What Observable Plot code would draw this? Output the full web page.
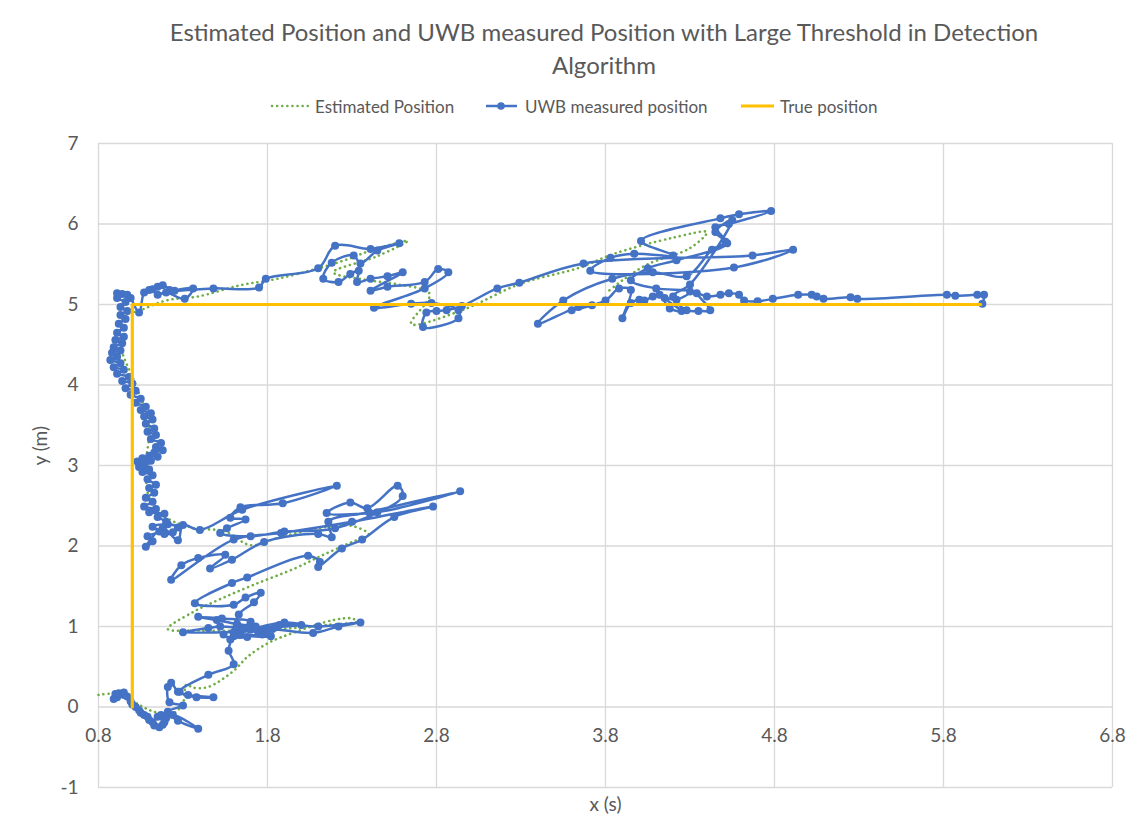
<!DOCTYPE html>
<html>
<head>
<meta charset="utf-8">
<script src="https://cdn.jsdelivr.net/npm/d3@7"></script>
<script src="https://cdn.jsdelivr.net/npm/@observablehq/plot@0.6"></script>
<style>
  html, body { margin: 0; padding: 0; background: #fff; }
  #wrap { position: relative; width: 1138px; height: 831px; font-family: Lato, "Open Sans", sans-serif; color: #595959; }
  #title { position: absolute; top: 15px; left: 0; width: 1208px; text-align: center; font-size: 24px; line-height: 33px; }
  #legend { position: absolute; top: 95px; left: 0; width: 1138px; height: 22px; font-size: 17px; }
  .li { position: absolute; top: 0; display: flex; align-items: center; height: 22px; }
  .li svg { margin-right: 3px; }
  #chart { position: absolute; top: 125px; left: 0; }
</style>
</head>
<body>
<div id="wrap">
  <div id="title">Estimated Position and UWB measured Position with Large Threshold in Detection<br>Algorithm</div>
  <div id="legend">
    <div class="li" style="left:270px"><svg width="42" height="10"><line x1="2" y1="5" x2="40" y2="5" stroke="#70ad47" stroke-width="2.5" stroke-dasharray="0.1 5" stroke-linecap="round"/></svg>Estimated Position</div>
    <div class="li" style="left:485px"><svg width="37" height="10"><line x1="1" y1="5" x2="32" y2="5" stroke="#4472c4" stroke-width="2.5"/><circle cx="16" cy="5" r="3.8" fill="#4472c4"/></svg>UWB measured position</div>
    <div class="li" style="left:739px"><svg width="38" height="10"><line x1="2" y1="5" x2="35" y2="5" stroke="#ffc000" stroke-width="3"/></svg>True position</div>
  </div>
  <div id="chart"></div>
</div>
<script>
// Tick values
const xTicks = [0.8, 1.8, 2.8, 3.8, 4.8, 5.8, 6.8];
const yTicks = [-1, 0, 1, 2, 3, 4, 5, 6, 7];

// True position path
const truePosition = [[1.0, 0], [1.0, 5.0], [6.02, 5.0]];

// Estimated position (smoothed, dotted)
const estimatedPosition = [
  [0.80,0.15],[0.93,0.16],[1.03,0.04],[1.13,-0.06],[1.24,-0.08],[1.30,0.05],[1.32,0.28],[1.36,0.24],
  [1.45,0.25],[1.60,0.45],[1.68,0.62],[1.80,0.79],[1.95,0.92],[2.19,1.08],[2.30,1.10],[2.33,1.06],
  [2.15,1.02],[1.95,0.98],[1.70,0.95],[1.40,0.95],[1.21,0.97],[1.36,1.18],[1.52,1.34],[1.72,1.52],
  [1.96,1.72],[2.12,1.88],[2.30,2.05],[2.40,2.14],[2.30,2.25],[2.10,2.22],[1.86,2.10],[1.70,2.01],
  [1.55,2.18],[1.35,2.23],[1.18,2.38],[1.10,2.60],[1.08,3.00],[1.10,3.50],[1.02,4.00],[0.93,4.50],
  [0.95,4.85],[1.05,4.93],[1.20,5.05],[1.39,5.10],[1.64,5.24],[1.86,5.32],[2.10,5.45],[2.27,5.56],
  [2.41,5.67],[2.63,5.79],[2.45,5.60],[2.19,5.40],[2.40,5.30],[2.57,5.25],[2.76,5.13],[2.65,4.76],
  [2.94,4.92],[3.30,5.26],[3.65,5.46],[3.85,5.63],[4.20,5.83],[4.40,5.90],[4.30,5.70],[4.05,5.50],
  [3.90,5.30],[3.82,5.17]
];

// UWB measured position
const uwbPosition = [
  [0.95,0.15],[0.91,0.12],[0.89,0.10],[0.90,0.16],[0.92,0.17],[0.95,0.18],[0.97,0.13],[0.99,0.07],
  [1.00,0.03],[1.02,0.00],[1.04,-0.04],[1.05,-0.07],[1.07,-0.10],[1.09,-0.12],[1.10,-0.16],[1.12,-0.19],
  [1.13,-0.23],[1.16,-0.25],[1.18,-0.22],[1.19,-0.19],[1.15,-0.12],[1.17,-0.10],[1.20,-0.14],[1.24,-0.10],
  [1.39,-0.27],[1.27,-0.17],[1.21,-0.06],[1.30,0.02],[1.22,0.06],[1.21,0.25],[1.23,0.30],[1.27,0.19],
  [1.33,0.15],[1.48,0.12],[1.38,0.12],[1.28,0.19],[1.45,0.40],[1.60,0.53],[1.57,0.70],[1.58,0.84],
  [1.54,0.90],
  [1.72,0.98],[1.76,0.93],[1.82,0.88],[1.64,0.90],[1.70,0.96],[1.90,1.05],[2.00,1.02],[1.85,0.99],
  [1.74,0.95],[1.30,0.93],[1.45,0.98],[1.52,1.00],[1.66,0.98],[1.83,0.97],[2.07,0.92],[2.22,1.00],
  [2.35,1.05],[2.10,1.00],[1.87,1.02],[1.77,0.90],[1.60,0.93],[1.70,1.06],[1.53,1.10],[1.39,1.12],
  [1.50,1.08],[1.62,1.03],[1.73,1.00],[1.80,0.96],[1.68,0.87],[1.60,0.88],[1.63,1.15],[1.72,1.30],
  [1.76,1.42],[1.67,1.36],[1.60,1.27],[1.37,1.29],[1.59,1.54],[1.68,1.61],[2.04,1.88],
  [2.11,1.80],[2.10,1.74],[2.24,1.97],[2.36,2.08],[2.55,2.36],[2.78,2.49],[2.30,2.30],[1.88,2.16],
  [1.60,2.08],[1.23,1.58],[1.29,1.76],[1.39,1.85],[1.55,1.89],[1.46,1.72],[1.59,1.83],[1.78,2.05],
  [2.10,2.15],[2.18,2.11],[2.16,2.30],[2.40,2.42],[2.94,2.68],[2.45,2.42],[2.15,2.41],[2.29,2.54],
  [2.39,2.47],[2.57,2.75],[2.60,2.62],[2.20,2.22],[1.90,2.18],[1.70,2.12],[1.52,2.16],[1.56,2.22],
  [1.67,2.33],[1.58,2.35],[1.64,2.48],[1.89,2.53],[2.21,2.75],[1.65,2.45],[1.40,2.20],[1.30,2.26],
  [1.27,2.07],[1.18,2.22],
  [1.08,1.99],[1.12,2.06],[1.09,2.12],[1.16,2.18],[1.12,2.24],[1.21,2.27],[1.27,2.23],[1.24,2.17],
  [1.19,2.15],[1.20,2.30],[1.15,2.36],[1.19,2.40],[1.10,2.42],[1.14,2.46],[1.07,2.49],[1.12,2.55],
  [1.08,2.60],[1.13,2.66],[1.10,2.72],[1.14,2.76],[1.09,2.83],[1.12,2.88],[1.06,2.92],[1.10,2.95],
  [1.04,2.98],[1.07,3.02],[1.03,3.05],[1.08,3.04],[1.06,3.09],[1.11,3.06],[1.10,3.12],[1.15,3.11],
  [1.13,3.16],[1.18,3.19],[1.14,3.23],[1.17,3.28],[1.11,3.33],[1.14,3.38],[1.09,3.42],[1.13,3.46],
  [1.08,3.52],[1.12,3.57],[1.07,3.61],[1.11,3.65],[1.05,3.69],[1.08,3.73],[1.02,3.78],[1.05,3.83],
  [0.99,3.88],[1.02,3.93],[0.96,3.96],[1.00,4.02],[0.94,4.05],[0.98,4.10],[0.91,4.14],[0.95,4.19],
  [0.89,4.22],[0.93,4.27],[0.87,4.31],[0.91,4.35],[0.88,4.40],[0.93,4.43],[0.89,4.47],[0.94,4.52],
  [0.90,4.56],[0.95,4.60],[0.91,4.65],[0.95,4.71],[0.92,4.76],[0.96,4.82],[0.93,4.87],[0.97,4.92],
  [0.93,4.97],[0.96,5.03],[0.91,5.08],[0.91,5.14],[0.94,5.13],[0.97,5.12],[0.99,5.08],
  [1.04,4.90],[1.07,5.15],[1.10,5.18],[1.12,5.19],[1.15,5.22],[1.18,5.24],[1.22,5.18],[1.15,5.12],
  [1.20,5.15],[1.31,5.07],[1.36,5.20],[1.25,5.17],[1.48,5.20],[1.75,5.21],[1.79,5.32],[2.10,5.45],
  [2.20,5.73],[2.41,5.69],[2.58,5.76],[2.45,5.67],[2.35,5.51],[2.31,5.61],[2.18,5.52],[2.13,5.32],
  [2.22,5.28],[2.29,5.38],[2.34,5.42],[2.33,5.28],[2.41,5.32],[2.51,5.35],[2.60,5.40],[2.41,5.17],
  [2.51,5.22],[2.73,5.28],[2.81,5.44],[2.87,5.40],[2.73,5.20],[2.43,4.96],[2.65,5.01],[2.77,5.02],
  [2.93,4.93],[2.93,4.83],[2.72,4.72],[2.74,4.90],[2.80,4.92],[2.86,4.93],[2.95,4.98],[3.16,5.20],
  [3.29,5.27],[3.67,5.51],[4.67,5.61],[4.91,5.68],[4.56,5.46],[3.71,5.42],[3.83,5.58],[3.97,5.63],
  [4.20,5.61],[4.01,5.79],[4.48,6.07],[4.59,6.12],[4.78,6.16],[4.53,6.00],[4.45,5.96],[4.51,5.78],
  [4.43,5.68],[4.28,5.35],[4.08,5.40],
  [3.84,5.32],[3.55,5.05],[3.40,4.76],[3.64,4.97],[3.72,4.99],[3.60,4.93],[3.80,5.05],[3.88,5.20],
  [3.95,5.18],[3.90,4.83],[3.95,5.02],[4.00,5.06],[4.03,5.05],[4.08,5.10],[4.12,5.12],[4.18,4.95],
  [4.25,4.92],[4.15,5.08],[4.22,5.06],[4.30,5.16],[4.10,5.20],[3.95,5.30],[4.05,5.45],[4.22,5.55],
  [4.52,5.76],[4.45,5.90],[4.55,6.05],[4.30,5.25],[4.20,5.10],[4.28,4.93],[4.35,4.92],[4.42,4.93],
  [4.34,5.14],[4.40,5.10],[4.48,5.12],[4.53,5.14],[4.59,5.12],[4.62,5.05],[4.70,5.04],[4.79,5.07],
  [4.94,5.12],[5.02,5.12],[5.05,5.10],[5.09,5.07],[5.25,5.09],[5.29,5.07],[5.82,5.12],[5.87,5.11],
  [6.00,5.12],[6.04,5.12],[6.03,5.01]
];

const gridColor = "#d9d9d9";
const textColor = "#595959";

const chart = Plot.plot({
  width: 1138,
  height: 706,
  marginLeft: 98,
  marginRight: 26,
  marginTop: 18,
  marginBottom: 44,
  style: { fontFamily: "Lato, 'Open Sans', sans-serif", fontSize: "19px", color: textColor, background: "#fff" },
  x: { domain: [0.8, 6.8], axis: null },
  y: { domain: [-1, 7], axis: null },
  marks: [
    Plot.gridX(xTicks, { stroke: gridColor, strokeOpacity: 1, strokeWidth: 1.3 }),
    Plot.gridY(yTicks, { stroke: gridColor, strokeOpacity: 1, strokeWidth: 1.3 }),
    Plot.text(yTicks, { x: 0.8, y: d => d, dx: -20, textAnchor: "end", text: d => String(d), fill: textColor, fontSize: 19 }),
    Plot.text(["y (m)"], { frameAnchor: "left", dx: -58, rotate: -90, fill: textColor, fontSize: 19 }),
    Plot.text(xTicks, { x: d => d, y: 0, dy: 29, text: d => d.toFixed(1), fill: textColor, fontSize: 19 }),
    Plot.text(["x (s)"], { frameAnchor: "bottom", dy: 17, lineAnchor: "middle", fill: textColor, fontSize: 19 }),
    Plot.line(estimatedPosition, { x: d => d[0], y: d => d[1], curve: "catmull-rom", stroke: "#70ad47", strokeWidth: 2.6, strokeDasharray: "0.1 5", strokeLinecap: "round" }),
    Plot.line(uwbPosition, { x: d => d[0], y: d => d[1], curve: "catmull-rom", stroke: "#4472c4", strokeWidth: 2.5 }),
    Plot.dot(uwbPosition, { x: d => d[0], y: d => d[1], r: 4, fill: "#4472c4", stroke: "none" }),
    Plot.line(truePosition, { x: d => d[0], y: d => d[1], stroke: "#ffc000", strokeWidth: 3.2 })
  ]
});
document.getElementById("chart").appendChild(chart);
</script>
</body>
</html>
